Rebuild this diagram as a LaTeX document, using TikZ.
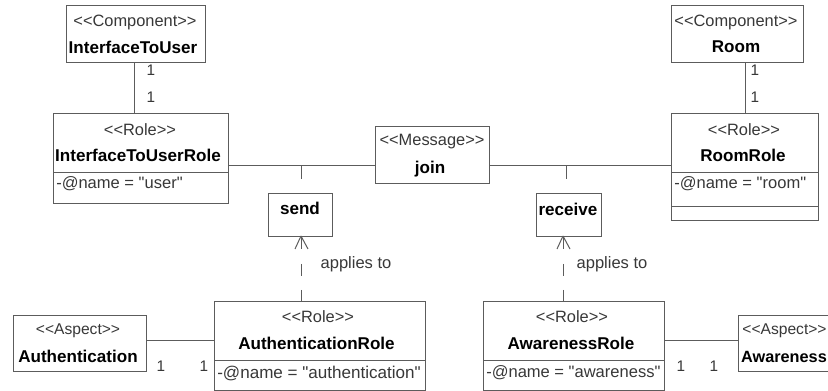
\documentclass[tikz,border=0pt]{standalone}
\usepackage{fontspec}
\setmainfont[Ligatures=TeXOff]{Liberation Sans}
\usetikzlibrary{arrows.meta}
\definecolor{linec}{gray}{0.36}
\definecolor{txtc}{gray}{0.22}
\tikzset{
  x=0.75pt,y=-0.75pt,
  umlbox/.style={draw=linec,line width=0.85pt,inner sep=0pt,anchor=north west},
  link/.style={draw=linec,line width=0.75pt},
  stereo/.style={text=txtc,font=\fontsize{12.3}{14}\selectfont,inner sep=0pt},
  aspectstereo/.style={text=txtc,font=\fontsize{11.7}{14}\selectfont,inner sep=0pt},
  cname/.style={text=black,font=\fontsize{12.8}{14}\selectfont\bfseries,inner sep=0pt},
  attr/.style={text=txtc,font=\fontsize{12.4}{14}\selectfont,inner sep=0pt,anchor=west},
  mult/.style={text=txtc,font=\fontsize{11.5}{13}\selectfont,inner sep=0pt},
  divider/.style={draw=linec,line width=0.75pt}
}
\newcommand{\umlnode}[5]{% name, x1,y1,x2,y2
  \node[umlbox,minimum width={(#4-#2)*0.75pt},minimum height={(#5-#3)*0.75pt}] (#1) at (#2,#3) {};}
\begin{document}
\begin{tikzpicture}
\useasboundingbox (0,0) rectangle (828,391);
\fill[white] (0,0) rectangle (828,391);
% boxes
\umlnode{itu}{66}{5}{205}{62}
\umlnode{itur}{53}{113}{228}{203}
\umlnode{msg}{375}{126}{489}{183}
\umlnode{room}{671}{5}{803}{62}
\umlnode{roomr}{671}{113}{818}{220}
\umlnode{send}{268}{193}{332}{236}
\umlnode{recv}{536}{193}{601}{236}
\umlnode{authr}{214}{301}{425}{390}
\umlnode{awarer}{483}{301}{664}{390}
\umlnode{auth}{13}{315}{146}{371}
\umlnode{aware}{738}{315}{835}{371}
% dividers
\draw[divider] (itur.west |- 0,173) -- (itur.east |- 0,173);
\draw[divider] (roomr.west |- 0,173) -- (roomr.east |- 0,173);
\draw[divider] (roomr.west |- 0,207) -- (roomr.east |- 0,207);
\draw[divider] (authr.west |- 0,361) -- (authr.east |- 0,361);
\draw[divider] (awarer.west |- 0,361) -- (awarer.east |- 0,361);
% texts
\node[stereo] (t1) at (135,22) {<<Component>>};
\node[cname] (t2) at (133,47) {InterfaceToUser};
\node[stereo] (t3) at (140,130) {<<Role>>};
\node[cname] (t4) at (138,155) {InterfaceToUserRole};
\node[attr] (t5) at (56,184) {-@name = "user"};
\node[stereo] (t6) at (432,142) {<<Message>>};
\node[cname] (t7) at (430,169) {join};
\node[stereo] (t8) at (736,22) {<<Component>>};
\node[cname] (t9) at (736,47) {Room};
\node[stereo] (t10) at (744,130) {<<Role>>};
\node[cname] (t11) at (743,155) {RoomRole};
\node[attr] (t12) at (674,184) {-@name = "room"};
\node[cname] (t13) at (300,208) {send};
\node[cname] (t14) at (568,209) {receive};
\node[stereo] (t15) at (318,317) {<<Role>>};
\node[cname] (t16) at (316.5,343) {AuthenticationRole};
\node[attr,font=\fontsize{12.8}{14}\selectfont] (t17) at (217,373) {-@name = "authentication"};
\node[stereo] (t18) at (572,317) {<<Role>>};
\node[cname] (t19) at (571,343) {AwarenessRole};
\node[attr] (t20) at (486,373) {-@name = "awareness"};
\node[aspectstereo] (t21) at (78,331) {<<Aspect>>};
\node[cname] (t22) at (78,356) {Authentication};
\node[aspectstereo] (t23) at (784.5,331) {<<Aspect>>};
\node[cname,font=\fontsize{12.2}{14}\selectfont\bfseries] (t24) at (784,357) {Awareness};
\node[attr,anchor=center] (t25) at (356,264) {applies to};
\node[attr,anchor=center] (t26) at (612,264) {applies to};
\node[mult] (m1) at (151,70) {1};
\node[mult] (m2) at (151,97) {1};
\node[mult] (m3) at (755,70) {1};
\node[mult] (m4) at (755,97) {1};
\node[mult] (m5) at (161,366) {1};
\node[mult] (m6) at (204,366) {1};
\node[mult] (m7) at (681,366) {1};
\node[mult] (m8) at (714,366) {1};
% connectors
\draw[link] (itu.south -| 134,0) -- (itur.north -| 134,0);
\draw[link] (room.south -| 745,0) -- (roomr.north -| 745,0);
\draw[link] (itur.east |- 0,166) -- (msg.west |- 0,166);
\draw[link] (msg.east |- 0,166) -- (roomr.west |- 0,166);
\coordinate (j1) at (301,166);
\coordinate (j1e) at (301,179);
\coordinate (j2) at (566,166);
\coordinate (j2e) at (566,179);
\draw[link] (j1) -- (j1e);
\draw[link] (j2) -- (j2e);
\draw[link] (auth.east |- 0,341) -- (authr.west |- 0,341);
\draw[link] (awarer.east |- 0,341) -- (aware.west |- 0,341);
% dependencies
\coordinate (a1) at (301,236);
\coordinate (a2) at (563,236);
\draw[link] (a1) -- (295,249);
\draw[link] (a1) -- (301,249);
\draw[link] (a1) -- (308,249);
\draw[link] (a2) -- (557,249);
\draw[link] (a2) -- (563,249);
\draw[link] (a2) -- (570,249);
\draw[link] (301,264) -- (301,276);
\draw[link] (301,290) -- (authr.north -| 301,0);
\draw[link] (563,264) -- (563,276);
\draw[link] (563,290) -- (awarer.north -| 563,0);
\end{tikzpicture}
\end{document}
